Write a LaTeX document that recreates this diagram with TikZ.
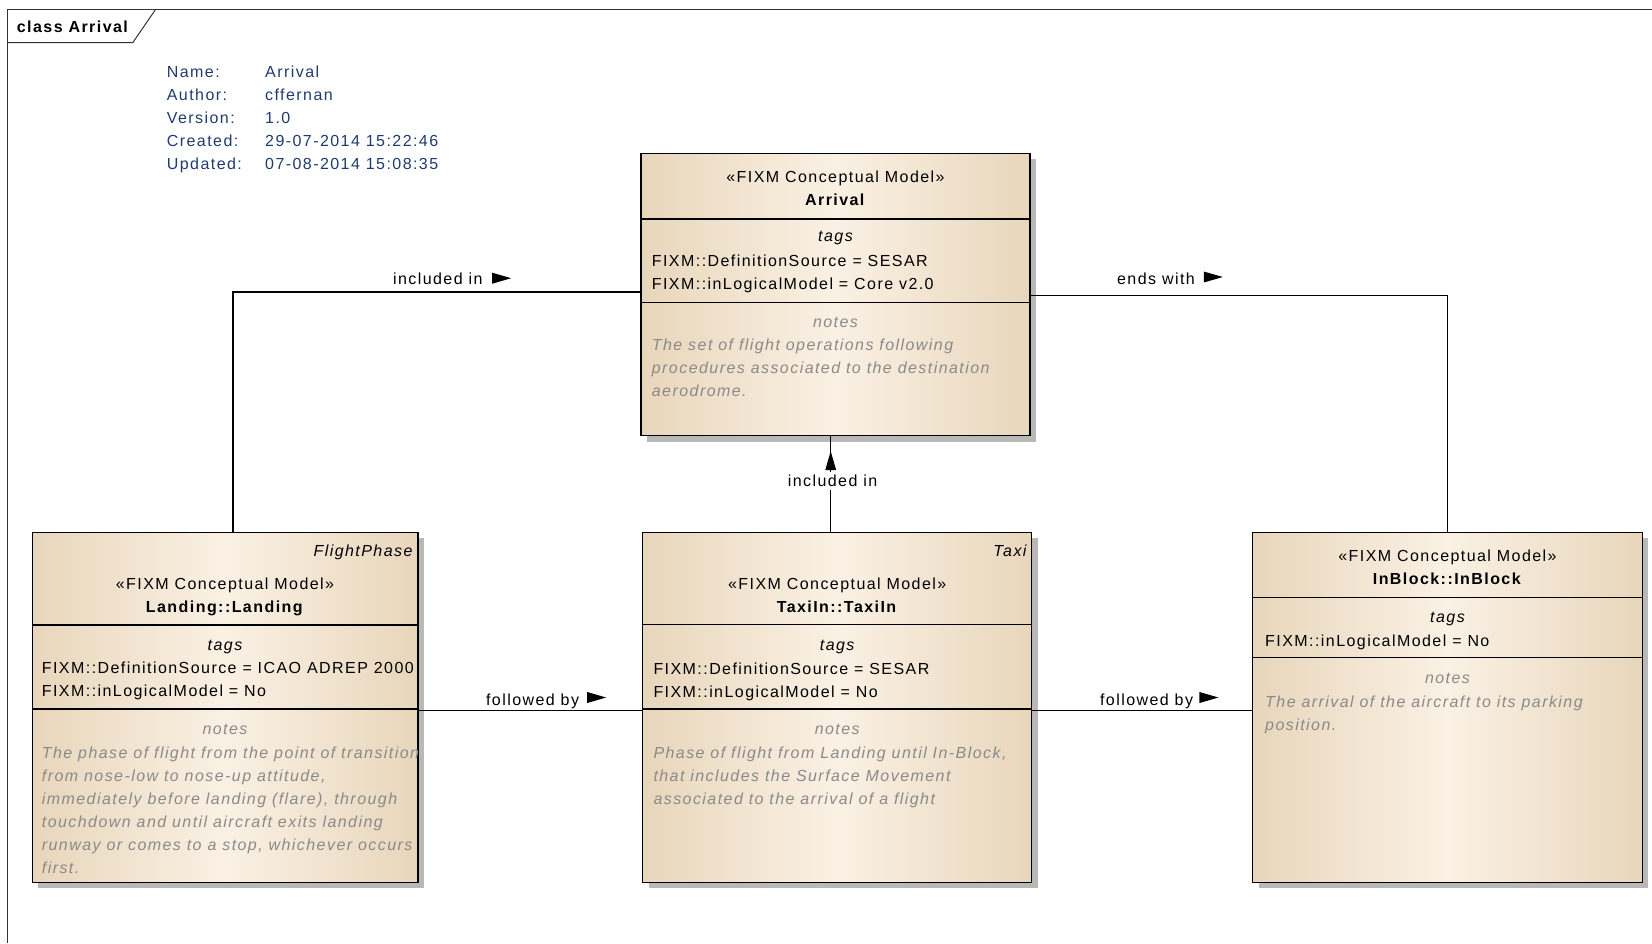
\documentclass[tikz,border=0pt]{standalone}
\usepackage{fontspec}
\setmainfont{Liberation Sans}[LetterSpace=9]
\usetikzlibrary{positioning,fit,shadows,shapes.geometric}

\definecolor{boxedge}{RGB}{232,214,187}
\definecolor{boxmid}{RGB}{250,241,228}
\definecolor{notegray}{RGB}{138,138,138}
\definecolor{infoblue}{RGB}{31,59,110}

\begin{document}
\begin{tikzpicture}[x=1pt,y=-1pt,
    every node/.style={inner sep=0pt,font=\fontsize{16}{23}\selectfont},
    classbox/.style={draw,line width=1.3pt,left color=boxedge,right color=boxedge,
                     middle color=boxmid,
                     general shadow={fill=black!28,shadow xshift=6pt,shadow yshift=-6pt}},
    divider/.style={line width=1.3pt},
    stereo/.style={anchor=north,align=center},
    tagshead/.style={anchor=north,font=\fontsize{16}{23}\selectfont\itshape},
    tagsbody/.style={anchor=north west,align=left},
    noteshead/.style={anchor=north,text=notegray,font=\fontsize{16}{23}\selectfont\itshape},
    notesbody/.style={anchor=north west,align=left,text=notegray,
                      font=\fontsize{16}{23}\selectfont\itshape},
    superclass/.style={anchor=north east,font=\fontsize{16}{23}\selectfont\itshape},
    link/.style={line width=1.3pt},
    lbl/.style={anchor=base east},
    dirtri/.style={isosceles triangle,isosceles triangle stretches,fill=black,
                   minimum width=11pt,minimum height=19pt,anchor=apex},
    info/.style={anchor=north west,align=left,text=infoblue},
    frame/.style={line width=1pt,draw=black!80}]

\useasboundingbox (0,0) rectangle (1652,943);

% diagram frame
\draw[frame] (7.3,943) -- (7.3,9.3) -- (1652,9.3);
\draw[frame] (7.3,42.7) -- (132.7,42.7) -- (155.7,9.3);
\node[anchor=base west,font=\fontsize{16}{23}\selectfont\bfseries] (framelbl) at (16.7,32) {class Arrival};

% diagram properties
\node[info] (infokeys) at (166.7,61.6) {\strut Name:\\Author:\\Version:\\Created:\\Updated:};
\node[info] (infovals) at (265,61.6) {\strut Arrival\\cffernan\\1.0\\29-07-2014 15:22:46\\07-08-2014 15:08:35};

% Arrival
\node[classbox,fit={(641,153.3) (1030,435.7)}] (arrival) {};
\draw[divider] (641,219) -- (1030,219);
\draw[divider] (641,302.7) -- (1030,302.7);
\node[stereo] (arrivalhead) at (835.5,165.9) {\strut«FIXM Conceptual Model»\\\textbf{Arrival}};
\node[tagshead] (arrivaltags) at (835.5,225.4) {\strut tags};
\node[tagsbody] (arrivaltagv) at (651.7,249.9) {\strut FIXM::DefinitionSource = SESAR\\FIXM::inLogicalModel = Core v2.0};
\node[noteshead] (arrivalnotes) at (835.5,310.9) {\strut notes};
\node[notesbody] (arrivalnotev) at (651.7,333.9) {\strut The set of flight operations following\\procedures associated to the destination\\aerodrome.};

% Landing
\node[classbox,fit={(32.3,532.3) (417.7,882.3)}] (landing) {};
\draw[divider] (32.3,625) -- (417.7,625);
\draw[divider] (32.3,709) -- (417.7,709);
\node[superclass] (landingsuper) at (412.7,540.6) {\strut FlightPhase};
\node[stereo] (landinghead) at (225,573.2) {\strut«FIXM Conceptual Model»\\\textbf{Landing::Landing}};
\node[tagshead] (landingtags) at (225,633.7) {\strut tags};
\node[tagsbody] (landingtagv) at (41.7,657.6) {\strut FIXM::DefinitionSource = ICAO ADREP 2000\\FIXM::inLogicalModel = No};
\node[noteshead] (landingnotes) at (225,717.9) {\strut notes};
\begin{scope}
\clip (32.3,709) rectangle (417.7,882.3);
\node[notesbody] (landingnotev) at (41.7,742.2) {\strut The phase of flight from the point of transition\\from nose-low to nose-up attitude,\\immediately before landing (flare), through\\touchdown and until aircraft exits landing\\runway or comes to a stop, whichever occurs\\first.};
\end{scope}
\draw[line width=1.3pt] (landing.north east) -- (landing.south east);

% TaxiIn
\node[classbox,fit={(642.7,532.3) (1031.7,882.3)}] (taxi) {};
\draw[divider] (642.7,624.7) -- (1031.7,624.7);
\draw[divider] (642.7,709) -- (1031.7,709);
\node[superclass] (taxisuper) at (1026.7,539.9) {\strut Taxi};
\node[stereo] (taxihead) at (837.2,573.2) {\strut«FIXM Conceptual Model»\\\textbf{TaxiIn::TaxiIn}};
\node[tagshead] (taxitags) at (837.2,634.4) {\strut tags};
\node[tagsbody] (taxitagv) at (653.3,658.2) {\strut FIXM::DefinitionSource = SESAR\\FIXM::inLogicalModel = No};
\node[noteshead] (taxinotes) at (837.2,717.9) {\strut notes};
\node[notesbody] (taxinotev) at (653.3,742.2) {\strut Phase of flight from Landing until In-Block,\\that includes the Surface Movement\\associated to the arrival of a flight};

% InBlock
\node[classbox,fit={(1252.7,532.3) (1642.3,882.3)}] (inblock) {};
\draw[divider] (1252.7,597.3) -- (1642.3,597.3);
\draw[divider] (1252.7,657.7) -- (1642.3,657.7);
\node[stereo] (inblockhead) at (1447.5,544.9) {\strut«FIXM Conceptual Model»\\\textbf{InBlock::InBlock}};
\node[tagshead] (inblocktags) at (1447.5,605.9) {\strut tags};
\node[tagsbody] (inblocktagv) at (1265,629.9) {\strut FIXM::inLogicalModel = No};
\node[noteshead] (inblocknotes) at (1447.5,666.9) {\strut notes};
\node[notesbody] (inblocknotev) at (1265,691.6) {\strut The arrival of the aircraft to its parking\\position.};

% connectors
\draw[link] ([xshift=8pt]landing.north) |- ([yshift=2.5pt]arrival.west);
\draw[link] ([yshift=-0.8pt]arrival.east) -| (inblock.north);
\draw[link] ([xshift=-6.5pt]taxi.north) -- ([xshift=-6.5pt]taxi.north |- arrival.south);
\draw[link] ([yshift=-3.4pt]landing.east) -- ([yshift=-3.4pt]taxi.west);
\draw[link] ([yshift=-3.4pt]taxi.east) -- ([yshift=-3.4pt]inblock.west);

% connector labels
\node[lbl] (inclland) at (482.7,284.7) {included in};
\node[dirtri] (incllanddir) at (511.7,278.2) {};
\node[lbl] (endsin) at (1195,284.7) {ends with};
\node[dirtri] (endsindir) at (1223.3,277) {};
\node[lbl] (follland) at (579.3,705) {followed by};
\node[dirtri] (folllanddir) at (606.7,697.5) {};
\node[lbl] (folltaxi) at (1193.3,705) {followed by};
\node[dirtri] (folltaxidir) at (1219,697.5) {};
\node[lbl,anchor=base,fill=white,inner xsep=1pt,inner ysep=3pt] (incltaxi) at (832.5,486.7) {included in};
\node[dirtri,shape border rotate=90] (incltaxidir) at (830.7,450.7) {};

\end{tikzpicture}
\end{document}
